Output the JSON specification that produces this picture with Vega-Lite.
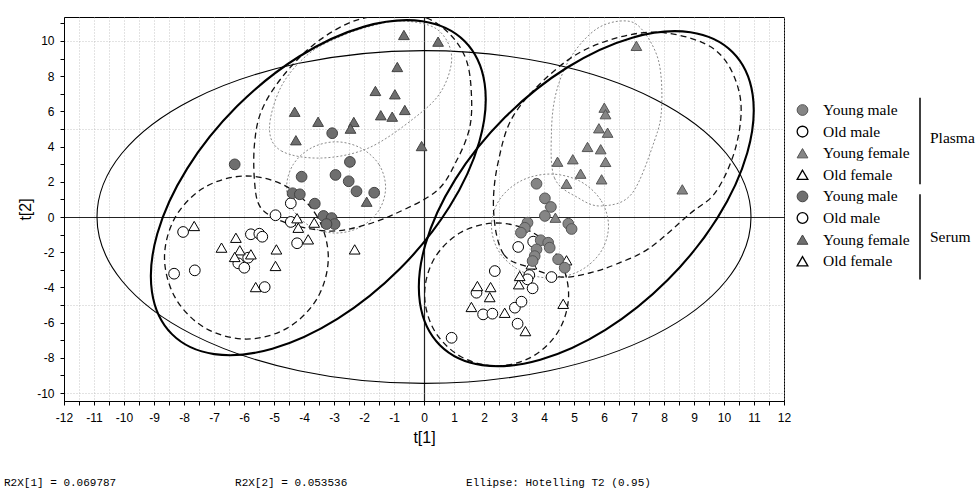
{
  "$schema": "https://vega.github.io/schema/vega-lite/v6.json",
  "padding": {"left": 3, "top": 16, "right": 0, "bottom": 0},
  "background": "white",
  "bounds": "flush",
  "spacing": 0,
  "config": {"view": {"stroke": null}, "font": "Liberation Sans"},
  "datasets": {
    "pts": [
      {"fluid":"Serum","grp":"Young male","x":-6.31,"y":2.99},
      {"fluid":"Serum","grp":"Young male","x":-3.06,"y":4.76},
      {"fluid":"Serum","grp":"Young male","x":-2.47,"y":3.13},
      {"fluid":"Serum","grp":"Young male","x":-4.08,"y":2.29},
      {"fluid":"Serum","grp":"Young male","x":-2.95,"y":2.39},
      {"fluid":"Serum","grp":"Young male","x":-2.51,"y":2.03},
      {"fluid":"Serum","grp":"Young male","x":-2.25,"y":1.46},
      {"fluid":"Serum","grp":"Young male","x":-1.66,"y":1.38},
      {"fluid":"Serum","grp":"Young male","x":-4.38,"y":1.35},
      {"fluid":"Serum","grp":"Young male","x":-4.14,"y":1.29},
      {"fluid":"Serum","grp":"Young male","x":-3.64,"y":0.76},
      {"fluid":"Serum","grp":"Young male","x":-3.35,"y":0.06},
      {"fluid":"Serum","grp":"Young male","x":-3.08,"y":-0.06},
      {"fluid":"Serum","grp":"Young male","x":-2.98,"y":-0.40},
      {"fluid":"Serum","grp":"Young male","x":-3.25,"y":-0.40},
      {"fluid":"Serum","grp":"Young female","x":-0.67,"y":10.34},
      {"fluid":"Serum","grp":"Young female","x":0.47,"y":9.96},
      {"fluid":"Serum","grp":"Young female","x":-0.89,"y":8.52},
      {"fluid":"Serum","grp":"Young female","x":-1.62,"y":7.16},
      {"fluid":"Serum","grp":"Young female","x":-0.97,"y":6.97},
      {"fluid":"Serum","grp":"Young female","x":-4.31,"y":5.98},
      {"fluid":"Serum","grp":"Young female","x":-3.53,"y":5.41},
      {"fluid":"Serum","grp":"Young female","x":-2.34,"y":5.40},
      {"fluid":"Serum","grp":"Young female","x":-2.45,"y":5.02},
      {"fluid":"Serum","grp":"Young female","x":-1.44,"y":5.78},
      {"fluid":"Serum","grp":"Young female","x":-1.06,"y":5.70},
      {"fluid":"Serum","grp":"Young female","x":-0.64,"y":6.08},
      {"fluid":"Serum","grp":"Young female","x":-4.27,"y":4.36},
      {"fluid":"Serum","grp":"Young female","x":-0.08,"y":4.03},
      {"fluid":"Serum","grp":"Young female","x":-1.91,"y":0.87},
      {"fluid":"Serum","grp":"Old male","x":-8.03,"y":-0.85},
      {"fluid":"Serum","grp":"Old male","x":-8.33,"y":-3.22},
      {"fluid":"Serum","grp":"Old male","x":-7.64,"y":-3.03},
      {"fluid":"Serum","grp":"Old male","x":-5.77,"y":-0.98},
      {"fluid":"Serum","grp":"Old male","x":-5.49,"y":-0.95},
      {"fluid":"Serum","grp":"Old male","x":-5.39,"y":-1.12},
      {"fluid":"Serum","grp":"Old male","x":-6.19,"y":-2.63},
      {"fluid":"Serum","grp":"Old male","x":-5.99,"y":-2.88},
      {"fluid":"Serum","grp":"Old male","x":-5.86,"y":-2.31},
      {"fluid":"Serum","grp":"Old male","x":-5.31,"y":-3.98},
      {"fluid":"Serum","grp":"Old male","x":-4.95,"y":0.10},
      {"fluid":"Serum","grp":"Old male","x":-4.44,"y":0.78},
      {"fluid":"Serum","grp":"Old male","x":-4.44,"y":-0.28},
      {"fluid":"Serum","grp":"Old male","x":-4.23,"y":-1.49},
      {"fluid":"Serum","grp":"Old female","x":-7.66,"y":-0.51},
      {"fluid":"Serum","grp":"Old female","x":-6.75,"y":-1.74},
      {"fluid":"Serum","grp":"Old female","x":-6.27,"y":-1.18},
      {"fluid":"Serum","grp":"Old female","x":-6.14,"y":-1.89},
      {"fluid":"Serum","grp":"Old female","x":-6.31,"y":-2.27},
      {"fluid":"Serum","grp":"Old female","x":-5.77,"y":-2.12},
      {"fluid":"Serum","grp":"Old female","x":-4.92,"y":-1.84},
      {"fluid":"Serum","grp":"Old female","x":-4.95,"y":-2.78},
      {"fluid":"Serum","grp":"Old female","x":-5.61,"y":-3.98},
      {"fluid":"Serum","grp":"Old female","x":-4.23,"y":-0.07},
      {"fluid":"Serum","grp":"Old female","x":-4.19,"y":-0.61},
      {"fluid":"Serum","grp":"Old female","x":-3.86,"y":-1.27},
      {"fluid":"Serum","grp":"Old female","x":-3.66,"y":-0.32},
      {"fluid":"Serum","grp":"Old female","x":-2.31,"y":-1.84},
      {"fluid":"Plasma","grp":"Young male","x":3.75,"y":1.89},
      {"fluid":"Plasma","grp":"Young male","x":4.03,"y":1.06},
      {"fluid":"Plasma","grp":"Young male","x":4.23,"y":0.57},
      {"fluid":"Plasma","grp":"Young male","x":4.03,"y":0.06},
      {"fluid":"Plasma","grp":"Young male","x":4.81,"y":-0.38},
      {"fluid":"Plasma","grp":"Young male","x":4.92,"y":-0.68},
      {"fluid":"Plasma","grp":"Young male","x":3.45,"y":-0.32},
      {"fluid":"Plasma","grp":"Young male","x":3.36,"y":-0.61},
      {"fluid":"Plasma","grp":"Young male","x":3.23,"y":-0.89},
      {"fluid":"Plasma","grp":"Young male","x":3.89,"y":-1.32},
      {"fluid":"Plasma","grp":"Young male","x":4.14,"y":-1.46},
      {"fluid":"Plasma","grp":"Young male","x":4.19,"y":-1.74},
      {"fluid":"Plasma","grp":"Young male","x":3.75,"y":-1.84},
      {"fluid":"Plasma","grp":"Young male","x":3.69,"y":-2.22},
      {"fluid":"Plasma","grp":"Young male","x":3.62,"y":-2.50},
      {"fluid":"Plasma","grp":"Young male","x":4.47,"y":-2.40},
      {"fluid":"Plasma","grp":"Young male","x":4.69,"y":-2.88},
      {"fluid":"Plasma","grp":"Young female","x":4.38,"y":-0.04},
      {"fluid":"Plasma","grp":"Young female","x":5.22,"y":2.46},
      {"fluid":"Plasma","grp":"Young female","x":4.75,"y":1.89},
      {"fluid":"Plasma","grp":"Young female","x":7.08,"y":9.72},
      {"fluid":"Plasma","grp":"Young female","x":6.01,"y":6.21},
      {"fluid":"Plasma","grp":"Young female","x":6.05,"y":5.84},
      {"fluid":"Plasma","grp":"Young female","x":5.83,"y":5.04},
      {"fluid":"Plasma","grp":"Young female","x":6.12,"y":4.79},
      {"fluid":"Plasma","grp":"Young female","x":5.45,"y":3.98},
      {"fluid":"Plasma","grp":"Young female","x":5.89,"y":3.85},
      {"fluid":"Plasma","grp":"Young female","x":4.45,"y":3.14},
      {"fluid":"Plasma","grp":"Young female","x":4.96,"y":3.28},
      {"fluid":"Plasma","grp":"Young female","x":6.05,"y":3.13},
      {"fluid":"Plasma","grp":"Young female","x":5.92,"y":2.14},
      {"fluid":"Plasma","grp":"Young female","x":8.61,"y":1.57},
      {"fluid":"Plasma","grp":"Old male","x":3.14,"y":-1.70},
      {"fluid":"Plasma","grp":"Old male","x":3.64,"y":-1.40},
      {"fluid":"Plasma","grp":"Old male","x":2.36,"y":-3.07},
      {"fluid":"Plasma","grp":"Old male","x":3.51,"y":-3.30},
      {"fluid":"Plasma","grp":"Old male","x":3.45,"y":-3.54},
      {"fluid":"Plasma","grp":"Old male","x":3.62,"y":-4.05},
      {"fluid":"Plasma","grp":"Old male","x":4.25,"y":-3.41},
      {"fluid":"Plasma","grp":"Old male","x":1.75,"y":-4.30},
      {"fluid":"Plasma","grp":"Old male","x":1.97,"y":-5.53},
      {"fluid":"Plasma","grp":"Old male","x":2.28,"y":-5.49},
      {"fluid":"Plasma","grp":"Old male","x":3.03,"y":-5.15},
      {"fluid":"Plasma","grp":"Old male","x":3.25,"y":-4.81},
      {"fluid":"Plasma","grp":"Old male","x":3.12,"y":-6.06},
      {"fluid":"Plasma","grp":"Old male","x":0.92,"y":-6.86},
      {"fluid":"Plasma","grp":"Old female","x":1.78,"y":-3.92},
      {"fluid":"Plasma","grp":"Old female","x":2.22,"y":-3.98},
      {"fluid":"Plasma","grp":"Old female","x":2.19,"y":-4.55},
      {"fluid":"Plasma","grp":"Old female","x":1.58,"y":-5.11},
      {"fluid":"Plasma","grp":"Old female","x":2.69,"y":-5.44},
      {"fluid":"Plasma","grp":"Old female","x":3.16,"y":-3.82},
      {"fluid":"Plasma","grp":"Old female","x":3.19,"y":-3.35},
      {"fluid":"Plasma","grp":"Old female","x":3.38,"y":-6.48},
      {"fluid":"Plasma","grp":"Old female","x":4.64,"y":-4.93},
      {"fluid":"Plasma","grp":"Old female","x":3.58,"y":-2.69},
      {"fluid":"Plasma","grp":"Old female","x":4.75,"y":-2.46}
    ],
    "ell": [
      {"e":"T2","i":0,"x":10.9,"y":0},{"e":"T2","i":1,"x":10.07,"y":3.62},{"e":"T2","i":2,"x":7.71,"y":6.68},{"e":"T2","i":3,"x":4.17,"y":8.73},
      {"e":"T2","i":4,"x":0,"y":9.45},{"e":"T2","i":5,"x":-4.17,"y":8.73},{"e":"T2","i":6,"x":-7.71,"y":6.68},{"e":"T2","i":7,"x":-10.07,"y":3.62},
      {"e":"T2","i":8,"x":-10.9,"y":0},{"e":"T2","i":9,"x":-10.07,"y":-3.62},{"e":"T2","i":10,"x":-7.71,"y":-6.68},{"e":"T2","i":11,"x":-4.17,"y":-8.73},
      {"e":"T2","i":12,"x":0,"y":-9.45},{"e":"T2","i":13,"x":4.17,"y":-8.73},{"e":"T2","i":14,"x":7.71,"y":-6.68},{"e":"T2","i":15,"x":10.07,"y":-3.62},

      {"e":"L","i":0,"x":1.356,"y":9.982},{"e":"L","i":1,"x":2.022,"y":7.580},{"e":"L","i":2,"x":1.844,"y":4.279},{"e":"L","i":3,"x":0.849,"y":0.579},
      {"e":"L","i":4,"x":-0.812,"y":-2.955},{"e":"L","i":5,"x":-2.886,"y":-5.787},{"e":"L","i":6,"x":-5.056,"y":-7.483},{"e":"L","i":7,"x":-6.993,"y":-7.787},
      {"e":"L","i":8,"x":-8.402,"y":-6.652},{"e":"L","i":9,"x":-9.068,"y":-4.250},{"e":"L","i":10,"x":-8.890,"y":-0.949},{"e":"L","i":11,"x":-7.895,"y":2.751},
      {"e":"L","i":12,"x":-6.234,"y":6.285},{"e":"L","i":13,"x":-4.160,"y":9.117},{"e":"L","i":14,"x":-1.990,"y":10.813},{"e":"L","i":15,"x":-0.053,"y":11.117},

      {"e":"R","i":0,"x":10.289,"y":9.357},{"e":"R","i":1,"x":10.955,"y":6.955},{"e":"R","i":2,"x":10.777,"y":3.654},{"e":"R","i":3,"x":9.782,"y":-0.046},
      {"e":"R","i":4,"x":8.121,"y":-3.580},{"e":"R","i":5,"x":6.047,"y":-6.412},{"e":"R","i":6,"x":3.877,"y":-8.108},{"e":"R","i":7,"x":1.940,"y":-8.412},
      {"e":"R","i":8,"x":0.531,"y":-7.277},{"e":"R","i":9,"x":-0.135,"y":-4.875},{"e":"R","i":10,"x":0.043,"y":-1.574},{"e":"R","i":11,"x":1.038,"y":2.126},
      {"e":"R","i":12,"x":2.699,"y":5.660},{"e":"R","i":13,"x":4.773,"y":8.492},{"e":"R","i":14,"x":6.943,"y":10.188},{"e":"R","i":15,"x":8.880,"y":10.492},

      {"e":"D1","i":0,"x":-3.19,"y":-2.30},{"e":"D1","i":1,"x":-3.56,"y":0.02},{"e":"D1","i":2,"x":-4.56,"y":1.71},{"e":"D1","i":3,"x":-5.92,"y":2.33},
      {"e":"D1","i":4,"x":-7.29,"y":1.71},{"e":"D1","i":5,"x":-8.28,"y":0.02},{"e":"D1","i":6,"x":-8.65,"y":-2.30},{"e":"D1","i":7,"x":-8.28,"y":-4.62},
      {"e":"D1","i":8,"x":-7.29,"y":-6.31},{"e":"D1","i":9,"x":-5.92,"y":-6.93},{"e":"D1","i":10,"x":-4.56,"y":-6.31},{"e":"D1","i":11,"x":-3.56,"y":-4.62},

      {"e":"D2","i":0,"x":-1.28,"y":1.68},{"e":"D2","i":1,"x":-1.50,"y":2.98},{"e":"D2","i":2,"x":-2.11,"y":3.92},{"e":"D2","i":3,"x":-2.93,"y":4.27},
      {"e":"D2","i":4,"x":-3.76,"y":3.92},{"e":"D2","i":5,"x":-4.36,"y":2.98},{"e":"D2","i":6,"x":-4.58,"y":1.68},{"e":"D2","i":7,"x":-4.36,"y":0.39},
      {"e":"D2","i":8,"x":-3.76,"y":-0.56},{"e":"D2","i":9,"x":-2.93,"y":-0.91},{"e":"D2","i":10,"x":-2.11,"y":-0.56},{"e":"D2","i":11,"x":-1.50,"y":0.39},

      {"e":"D3","i":0,"x":-5.15,"y":5.06},{"e":"D3","i":1,"x":-4.75,"y":3.75},{"e":"D3","i":2,"x":-3.42,"y":3.35},{"e":"D3","i":3,"x":-1.85,"y":3.92},
      {"e":"D3","i":4,"x":-0.32,"y":5.63},{"e":"D3","i":5,"x":0.58,"y":7.16},{"e":"D3","i":6,"x":0.92,"y":9.15},{"e":"D3","i":7,"x":0.42,"y":10.68},
      {"e":"D3","i":8,"x":-0.75,"y":11.14},{"e":"D3","i":9,"x":-1.75,"y":10.85},{"e":"D3","i":10,"x":-2.75,"y":10.28},{"e":"D3","i":11,"x":-3.85,"y":9.26},
      {"e":"D3","i":12,"x":-4.75,"y":7.44},

      {"e":"D4","i":0,"x":-0.98,"y":11.48},{"e":"D4","i":1,"x":0.08,"y":11.31},{"e":"D4","i":2,"x":0.92,"y":10.28},{"e":"D4","i":3,"x":1.42,"y":8.86},
      {"e":"D4","i":4,"x":1.58,"y":6.99},{"e":"D4","i":5,"x":1.52,"y":5.06},{"e":"D4","i":6,"x":1.08,"y":3.18},{"e":"D4","i":7,"x":0.42,"y":1.48},
      {"e":"D4","i":8,"x":-0.98,"y":0.17},{"e":"D4","i":9,"x":-2.08,"y":-0.51},{"e":"D4","i":10,"x":-3.08,"y":-0.80},{"e":"D4","i":11,"x":-4.08,"y":-0.57},
      {"e":"D4","i":12,"x":-4.92,"y":-0.11},{"e":"D4","i":13,"x":-5.48,"y":0.63},{"e":"D4","i":14,"x":-5.65,"y":2.05},{"e":"D4","i":15,"x":-5.65,"y":4.15},
      {"e":"D4","i":16,"x":-5.42,"y":6.02},{"e":"D4","i":17,"x":-4.75,"y":7.90},{"e":"D4","i":18,"x":-3.65,"y":9.83},{"e":"D4","i":19,"x":-2.32,"y":11.14},

      {"e":"D5","i":0,"x":4.82,"y":-4.40},{"e":"D5","i":1,"x":4.50,"y":-2.37},{"e":"D5","i":2,"x":3.62,"y":-0.88},{"e":"D5","i":3,"x":2.42,"y":-0.34},
      {"e":"D5","i":4,"x":1.22,"y":-0.88},{"e":"D5","i":5,"x":0.34,"y":-2.37},{"e":"D5","i":6,"x":0.02,"y":-4.40},{"e":"D5","i":7,"x":0.34,"y":-6.43},
      {"e":"D5","i":8,"x":1.22,"y":-7.92},{"e":"D5","i":9,"x":2.42,"y":-8.46},{"e":"D5","i":10,"x":3.62,"y":-7.92},{"e":"D5","i":11,"x":4.50,"y":-6.43},

      {"e":"D6","i":0,"x":6.15,"y":-0.51},{"e":"D6","i":1,"x":5.89,"y":0.97},{"e":"D6","i":2,"x":5.18,"y":2.05},{"e":"D6","i":3,"x":4.20,"y":2.44},
      {"e":"D6","i":4,"x":3.23,"y":2.05},{"e":"D6","i":5,"x":2.51,"y":0.97},{"e":"D6","i":6,"x":2.25,"y":-0.51},{"e":"D6","i":7,"x":2.51,"y":-1.99},
      {"e":"D6","i":8,"x":3.23,"y":-3.07},{"e":"D6","i":9,"x":4.20,"y":-3.46},{"e":"D6","i":10,"x":5.18,"y":-3.07},{"e":"D6","i":11,"x":5.89,"y":-1.99},

      {"e":"D7","i":0,"x":4.25,"y":4.89},{"e":"D7","i":1,"x":4.35,"y":2.22},{"e":"D7","i":2,"x":5.15,"y":1.08},{"e":"D7","i":3,"x":5.92,"y":0.63},
      {"e":"D7","i":4,"x":6.92,"y":1.31},{"e":"D7","i":5,"x":7.68,"y":4.32},{"e":"D7","i":6,"x":7.92,"y":6.19},{"e":"D7","i":7,"x":7.82,"y":8.86},
      {"e":"D7","i":8,"x":7.25,"y":10.68},{"e":"D7","i":9,"x":6.65,"y":11.14},{"e":"D7","i":10,"x":5.75,"y":10.68},{"e":"D7","i":11,"x":4.92,"y":9.15},
      {"e":"D7","i":12,"x":4.42,"y":7.16},

      {"e":"D8","i":0,"x":2.32,"y":0.34},{"e":"D8","i":1,"x":2.65,"y":-2.10},{"e":"D8","i":2,"x":3.58,"y":-2.90},{"e":"D8","i":3,"x":4.58,"y":-3.41},
      {"e":"D8","i":4,"x":5.52,"y":-3.18},{"e":"D8","i":5,"x":6.42,"y":-2.67},{"e":"D8","i":6,"x":7.52,"y":-1.76},{"e":"D8","i":7,"x":8.85,"y":0.17},
      {"e":"D8","i":8,"x":9.75,"y":1.48},{"e":"D8","i":9,"x":10.42,"y":4.15},{"e":"D8","i":10,"x":10.52,"y":6.99},{"e":"D8","i":11,"x":9.75,"y":9.43},
      {"e":"D8","i":12,"x":8.08,"y":10.45},{"e":"D8","i":13,"x":6.42,"y":10.17},{"e":"D8","i":14,"x":4.75,"y":8.86},{"e":"D8","i":15,"x":3.08,"y":6.02},
      {"e":"D8","i":16,"x":2.48,"y":3.18}
    ],
    "leg": [
      {"rank":0,"fluid":"Plasma","grp":"Young male","label":"Young male"},
      {"rank":1,"fluid":"Plasma","grp":"Old male","label":"\u00a0Old male"},
      {"rank":2,"fluid":"Plasma","grp":"Young female","label":"Young female"},
      {"rank":3,"fluid":"Plasma","grp":"Old female","label":"Old female"},
      {"rank":4,"fluid":"Serum","grp":"Young male","label":"Young male"},
      {"rank":5,"fluid":"Serum","grp":"Old male","label":"Old male"},
      {"rank":6,"fluid":"Serum","grp":"Young female","label":"Young female"},
      {"rank":7,"fluid":"Serum","grp":"Old female","label":"Old female"}
    ]
  },
  "hconcat": [
    {
      "width": 720,
      "height": 384,
      "view": {"stroke": "black", "strokeWidth": 1},
      "title": {
        "text": "R2X[1] = 0.069787\u00a0\u00a0\u00a0\u00a0\u00a0\u00a0\u00a0\u00a0\u00a0\u00a0\u00a0\u00a0\u00a0\u00a0\u00a0\u00a0\u00a0\u00a0R2X[2] = 0.053536\u00a0\u00a0\u00a0\u00a0\u00a0\u00a0\u00a0\u00a0\u00a0\u00a0\u00a0\u00a0\u00a0\u00a0\u00a0\u00a0\u00a0\u00a0Ellipse: Hotelling T2 (0.95)",
        "orient": "bottom",
        "anchor": "start",
        "frame": "group",
        "dx": -60,
        "offset": 32,
        "font": "Liberation Mono",
        "fontSize": 11,
        "fontWeight": "normal",
        "color": "black"
      },
      "encoding": {
        "x": {
          "field": "x", "type": "quantitative",
          "scale": {"domain": [-12, 12], "nice": false, "zero": false},
          "axis": {
            "title": "t[1]",
            "values": [-12,-11.5,-11,-10.5,-10,-9.5,-9,-8.5,-8,-7.5,-7,-6.5,-6,-5.5,-5,-4.5,-4,-3.5,-3,-2.5,-2,-1.5,-1,-0.5,0,0.5,1,1.5,2,2.5,3,3.5,4,4.5,5,5.5,6,6.5,7,7.5,8,8.5,9,9.5,10,10.5,11,11.5,12],
            "labelExpr": "datum.value % 1 === 0 ? toString(datum.value) : ''",
            "labelFont": "Liberation Sans", "labelFontSize": 12, "labelColor": "black",
            "labelPadding": 7, "labelOverlap": false, "labelFlush": false,
            "tickColor": "black", "tickSize": 4, "domainColor": "black",
            "grid": true,
            "gridColor": {"condition": {"test": "datum.value === 0", "value": "#222222"}, "value": "#b8b8b8"},
            "gridDash": {"condition": {"test": "datum.value === 0", "value": []}, "value": [1, 2]},
            "gridWidth": {"condition": {"test": "datum.value === 0", "value": 1.2}, "value": 0.8},
            "titleFont": "Liberation Sans", "titleFontSize": 16, "titleFontWeight": "normal", "titleColor": "black", "titlePadding": 6
          }
        },
        "y": {
          "field": "y", "type": "quantitative",
          "scale": {"domain": [-10.45, 11.36], "nice": false, "zero": false},
          "axis": {
            "title": "t[2]",
            "values": [-10,-9,-8,-7,-6,-5,-4,-3,-2,-1,0,1,2,3,4,5,6,7,8,9,10,11],
            "labelExpr": "datum.value % 2 === 0 ? toString(datum.value) : ''",
            "labelFont": "Liberation Sans", "labelFontSize": 12, "labelColor": "black",
            "labelPadding": 6, "labelOverlap": false, "labelFlush": false,
            "tickColor": "black", "tickSize": 4, "domainColor": "black",
            "grid": true,
            "gridColor": {"condition": {"test": "datum.value === 0", "value": "#222222"}, "value": "#b8b8b8"},
            "gridDash": {"condition": {"test": "datum.value === 0", "value": []}, "value": [1, 2]},
            "gridWidth": {"condition": {"test": "datum.value === 0", "value": 1.2}, "value": 0.8},
            "gridOpacity": {"condition": {"test": "datum.value % 5 === 0", "value": 1}, "value": 0},
            "titleFont": "Liberation Sans", "titleFontSize": 16, "titleFontWeight": "normal", "titleColor": "black", "titlePadding": 3
          }
        }
      },
      "layer": [
        {
          "data": {"name": "ell"},
          "transform": [{"filter": {"field": "e", "oneOf": ["T2"]}}],
          "mark": {"type": "line", "interpolate": "cardinal-closed", "clip": true, "color": "black", "strokeWidth": 1.1},
          "encoding": {"detail": {"field": "e"}, "order": {"field": "i", "type": "quantitative"}}
        },
        {
          "data": {"name": "ell"},
          "transform": [{"filter": {"field": "e", "oneOf": ["D2", "D3", "D6", "D7"]}}],
          "mark": {"type": "line", "interpolate": "cardinal-closed", "clip": true, "color": "#8a8a8a", "strokeWidth": 1, "strokeDash": [2, 2]},
          "encoding": {"detail": {"field": "e"}, "order": {"field": "i", "type": "quantitative"}}
        },
        {
          "data": {"name": "ell"},
          "transform": [{"filter": {"field": "e", "oneOf": ["D1", "D4", "D5", "D8"]}}],
          "mark": {"type": "line", "interpolate": "cardinal-closed", "clip": true, "color": "#111111", "strokeWidth": 1.3, "strokeDash": [6, 4]},
          "encoding": {"detail": {"field": "e"}, "order": {"field": "i", "type": "quantitative"}}
        },
        {
          "data": {"name": "ell"},
          "transform": [{"filter": {"field": "e", "oneOf": ["L", "R"]}}],
          "mark": {"type": "line", "interpolate": "cardinal-closed", "clip": true, "color": "black", "strokeWidth": 2.1},
          "encoding": {"detail": {"field": "e"}, "order": {"field": "i", "type": "quantitative"}}
        },
        {
          "data": {"name": "pts"},
          "transform": [{"filter": "datum.grp == 'Old male' || datum.grp == 'Old female'"}],
          "mark": {"type": "point", "filled": true, "fill": "white", "stroke": "black", "strokeWidth": 1, "opacity": 1},
          "encoding": {
            "shape": {"field": "grp", "type": "nominal", "scale": {"domain": ["Young male", "Old male", "Young female", "Old female"], "range": ["circle", "circle", "triangle-up", "triangle-up"]}, "legend": null},
            "size": {"field": "grp", "type": "nominal", "scale": {"domain": ["Young male", "Old male", "Young female", "Old female"], "range": [115, 115, 165, 165]}, "legend": null}
          }
        },
        {
          "data": {"name": "pts"},
          "transform": [{"filter": "datum.fluid == 'Plasma' && (datum.grp == 'Young male' || datum.grp == 'Young female')"}],
          "mark": {"type": "point", "filled": true, "fill": "#858585", "stroke": "#555555", "strokeWidth": 1, "opacity": 1},
          "encoding": {
            "shape": {"field": "grp", "type": "nominal", "scale": {"domain": ["Young male", "Old male", "Young female", "Old female"], "range": ["circle", "circle", "triangle-up", "triangle-up"]}, "legend": null},
            "size": {"field": "grp", "type": "nominal", "scale": {"domain": ["Young male", "Old male", "Young female", "Old female"], "range": [115, 115, 165, 165]}, "legend": null}
          }
        },
        {
          "data": {"name": "pts"},
          "transform": [{"filter": "datum.fluid == 'Serum' && (datum.grp == 'Young male' || datum.grp == 'Young female')"}],
          "mark": {"type": "point", "filled": true, "fill": "#6e6e6e", "stroke": "#444444", "strokeWidth": 1, "opacity": 1},
          "encoding": {
            "shape": {"field": "grp", "type": "nominal", "scale": {"domain": ["Young male", "Old male", "Young female", "Old female"], "range": ["circle", "circle", "triangle-up", "triangle-up"]}, "legend": null},
            "size": {"field": "grp", "type": "nominal", "scale": {"domain": ["Young male", "Old male", "Young female", "Old female"], "range": [115, 115, 165, 165]}, "legend": null}
          }
        }
      ]
    },
    {
      "width": 195,
      "height": 384,
      "view": {"stroke": null},
      "layer": [
        {
          "data": {"values": [{}]},
          "mark": {"type": "rule", "color": "black", "strokeWidth": 1.5},
          "encoding": {
            "x": {"datum": 136, "type": "quantitative", "scale": {"domain": [0, 195], "nice": false, "zero": false}, "axis": null},
            "y": {"datum": -0.57, "type": "quantitative", "scale": {"domain": [-4.306, 13.47], "nice": false, "zero": false, "reverse": true}, "axis": null},
            "y2": {"datum": 3.44}
          }
        },
        {
          "data": {"values": [{}]},
          "mark": {"type": "rule", "color": "black", "strokeWidth": 1.5},
          "encoding": {
            "x": {"datum": 136, "type": "quantitative", "scale": {"domain": [0, 195], "nice": false, "zero": false}, "axis": null},
            "y": {"datum": 3.9, "type": "quantitative", "scale": {"domain": [-4.306, 13.47], "nice": false, "zero": false, "reverse": true}, "axis": null},
            "y2": {"datum": 7.84}
          }
        },
        {
          "data": {"values": [{}]},
          "mark": {"type": "text", "text": "Plasma", "align": "left", "baseline": "middle", "font": "Liberation Serif", "fontSize": 15.5, "color": "black"},
          "encoding": {
            "x": {"datum": 146, "type": "quantitative", "scale": {"domain": [0, 195], "nice": false, "zero": false}, "axis": null},
            "y": {"datum": 1.29, "type": "quantitative", "scale": {"domain": [-4.306, 13.47], "nice": false, "zero": false, "reverse": true}, "axis": null}
          }
        },
        {
          "data": {"values": [{}]},
          "mark": {"type": "text", "text": "Serum", "align": "left", "baseline": "middle", "font": "Liberation Serif", "fontSize": 15.5, "color": "black"},
          "encoding": {
            "x": {"datum": 146, "type": "quantitative", "scale": {"domain": [0, 195], "nice": false, "zero": false}, "axis": null},
            "y": {"datum": 5.87, "type": "quantitative", "scale": {"domain": [-4.306, 13.47], "nice": false, "zero": false, "reverse": true}, "axis": null}
          }
        },
        {
          "data": {"name": "leg"},
          "mark": {"type": "text", "align": "left", "baseline": "middle", "font": "Liberation Serif", "fontSize": 15.5, "color": "black"},
          "encoding": {
            "x": {"datum": 39, "type": "quantitative", "scale": {"domain": [0, 195], "nice": false, "zero": false}, "axis": null},
            "y": {"field": "rank", "type": "quantitative", "scale": {"domain": [-4.306, 13.47], "nice": false, "zero": false, "reverse": true}, "axis": null},
            "text": {"field": "label", "type": "nominal"}
          }
        },
        {
          "data": {"name": "leg"},
          "transform": [{"filter": "datum.grp == 'Old male' || datum.grp == 'Old female'"}],
          "mark": {"type": "point", "filled": true, "fill": "white", "stroke": "black", "strokeWidth": 1.3, "opacity": 1},
          "encoding": {
            "x": {"datum": 18.5, "type": "quantitative", "scale": {"domain": [0, 195], "nice": false, "zero": false}, "axis": null},
            "y": {"field": "rank", "type": "quantitative", "scale": {"domain": [-4.306, 13.47], "nice": false, "zero": false, "reverse": true}, "axis": null},
            "shape": {"field": "grp", "type": "nominal", "scale": {"domain": ["Young male", "Old male", "Young female", "Old female"], "range": ["circle", "circle", "triangle-up", "triangle-up"]}, "legend": null},
            "size": {"field": "grp", "type": "nominal", "scale": {"domain": ["Young male", "Old male", "Young female", "Old female"], "range": [115, 115, 165, 165]}, "legend": null}
          }
        },
        {
          "data": {"name": "leg"},
          "transform": [{"filter": "datum.fluid == 'Plasma' && (datum.grp == 'Young male' || datum.grp == 'Young female')"}],
          "mark": {"type": "point", "filled": true, "fill": "#858585", "stroke": "#555555", "strokeWidth": 1, "opacity": 1},
          "encoding": {
            "x": {"datum": 18.5, "type": "quantitative", "scale": {"domain": [0, 195], "nice": false, "zero": false}, "axis": null},
            "y": {"field": "rank", "type": "quantitative", "scale": {"domain": [-4.306, 13.47], "nice": false, "zero": false, "reverse": true}, "axis": null},
            "shape": {"field": "grp", "type": "nominal", "scale": {"domain": ["Young male", "Old male", "Young female", "Old female"], "range": ["circle", "circle", "triangle-up", "triangle-up"]}, "legend": null},
            "size": {"field": "grp", "type": "nominal", "scale": {"domain": ["Young male", "Old male", "Young female", "Old female"], "range": [115, 115, 165, 165]}, "legend": null}
          }
        },
        {
          "data": {"name": "leg"},
          "transform": [{"filter": "datum.fluid == 'Serum' && (datum.grp == 'Young male' || datum.grp == 'Young female')"}],
          "mark": {"type": "point", "filled": true, "fill": "#6e6e6e", "stroke": "#444444", "strokeWidth": 1, "opacity": 1},
          "encoding": {
            "x": {"datum": 18.5, "type": "quantitative", "scale": {"domain": [0, 195], "nice": false, "zero": false}, "axis": null},
            "y": {"field": "rank", "type": "quantitative", "scale": {"domain": [-4.306, 13.47], "nice": false, "zero": false, "reverse": true}, "axis": null},
            "shape": {"field": "grp", "type": "nominal", "scale": {"domain": ["Young male", "Old male", "Young female", "Old female"], "range": ["circle", "circle", "triangle-up", "triangle-up"]}, "legend": null},
            "size": {"field": "grp", "type": "nominal", "scale": {"domain": ["Young male", "Old male", "Young female", "Old female"], "range": [115, 115, 165, 165]}, "legend": null}
          }
        }
      ]
    }
  ]
}
